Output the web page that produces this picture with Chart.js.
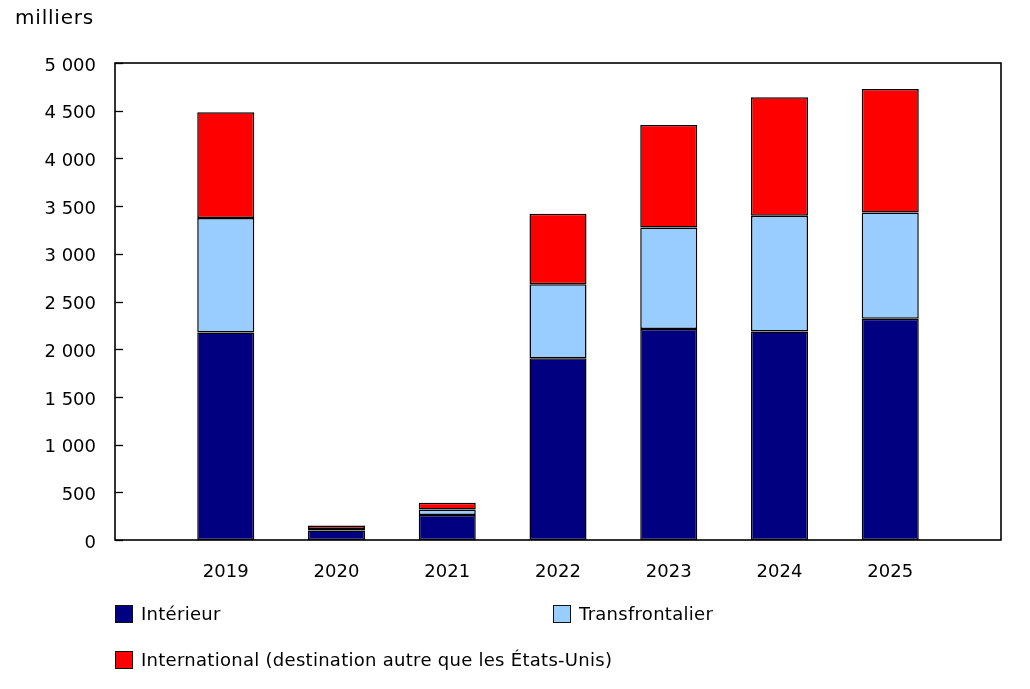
<!DOCTYPE html>
<html lang="fr">
<head>
<meta charset="utf-8">
<script src="https://cdn.jsdelivr.net/npm/chart.js@4"></script>
<style>
    body { margin: 0; background: #fff; font-family: "DejaVu Sans", Verdana, sans-serif; }
    #wrap { position: relative; width: 1030px; height: 689px; }
    #unit { position: absolute; left: 15px; top: 5px; font-size: 20px; letter-spacing: 0.8px; color: #000; }
    .leg { position: absolute; font-size: 18px; letter-spacing: 0.28px; color: #000; display: flex; align-items: center; }
    .leg span.box { width: 16px; height: 16px; border: 1px solid #111; margin-right: 8px; display: inline-block; }
</style>
</head>
<body>
<div id="wrap">
    <canvas id="chart" width="1030" height="689"></canvas>
    <div id="unit">milliers</div>
    <div id="legend"></div>
</div>
<script>
// années (cases vides aux deux bouts pour l'espace avant 2019 et après 2025)
const years = ['', '2019', '2020', '2021', '2022', '2023', '2024', '2025', ''];

// milliers de voyageurs
const interieur = [null, 2175, 100, 262, 1906, 2213, 2185, 2318, null];
const transfrontalier = [null, 1200, 15, 58, 776, 1063, 1214, 1115, null];
const international = [null, 1110, 38, 70, 738, 1074, 1241, 1295, null];

const seriesNames = ['Intérieur', 'Transfrontalier', 'International (destination autre que les États-Unis)'];
const seriesColors = ['#000080', '#99ccff', '#ff0000'];
const yTicks = [0, 500, 1000, 1500, 2000, 2500, 3000, 3500, 4000, 4500, 5000];

function fmt(v) {
    return v.toString().replace(/\B(?=(\d{3})+(?!\d))/g, ' ');
}

// cadre autour du graphique + petites marques vers l'intérieur sur l'axe y
const framePlugin = {
    id: 'frame',
    afterDatasetsDraw(chart) {
        const ctx = chart.ctx;
        const a = chart.chartArea;
        const y = chart.scales.y;
        ctx.save();
        ctx.strokeStyle = '#000';
        ctx.lineWidth = 1.6;
        ctx.strokeRect(a.left, a.top, a.right - a.left, a.bottom - a.top);
        ctx.lineWidth = 1.3;
        yTicks.forEach(t => {
            const py = Math.round(y.getPixelForValue(t)) + 0.5;
            ctx.beginPath();
            ctx.moveTo(a.left, py);
            ctx.lineTo(a.left + 8, py);
            ctx.stroke();
        });
        ctx.restore();
    }
};

Chart.defaults.font.family = '"DejaVu Sans", Verdana, sans-serif';
Chart.defaults.font.size = 18;
Chart.defaults.color = '#000';

const datasets = [interieur, transfrontalier, international].map((d, i) => ({
    label: seriesNames[i],
    data: d,
    backgroundColor: seriesColors[i],
    borderColor: '#000',
    borderWidth: 1.5,
    borderSkipped: false,
    barPercentage: 1,
    categoryPercentage: 0.515
}));

new Chart(document.getElementById('chart'), {
    type: 'bar',
    data: { labels: years, datasets: datasets },
    options: {
        responsive: false,
        animation: false,
        layout: { padding: { top: 63, right: 29, left: 0, bottom: 0 } },
        plugins: {
            legend: { display: false },
            tooltip: { enabled: false }
        },
        scales: {
            x: {
                stacked: true,
                offset: false,
                grid: { display: false, drawTicks: false },
                border: { display: false },
                ticks: { padding: 22, maxRotation: 0, autoSkip: false },
                afterFit: s => { s.height = 149; }
            },
            y: {
                stacked: true,
                min: 0,
                max: 5000,
                grid: { display: false, drawTicks: false },
                border: { display: false },
                afterBuildTicks: s => { s.ticks = yTicks.map(v => ({ value: v })); },
                ticks: { padding: 19, labelOffset: 3, callback: v => fmt(v) },
                afterFit: s => { s.width = 115; }
            }
        }
    },
    plugins: [framePlugin]
});

// légende en HTML, positionnée comme dans l'original
const legPos = [[115, 604], [553, 604], [115, 650]];
const legend = document.getElementById('legend');
seriesNames.forEach((name, i) => {
    const el = document.createElement('div');
    el.className = 'leg';
    el.style.left = legPos[i][0] + 'px';
    el.style.top = (legPos[i][1] - 1) + 'px';
    el.innerHTML = `<span class="box" style="background:${seriesColors[i]}"></span>${name}`;
    legend.appendChild(el);
});
</script>
</body>
</html>
